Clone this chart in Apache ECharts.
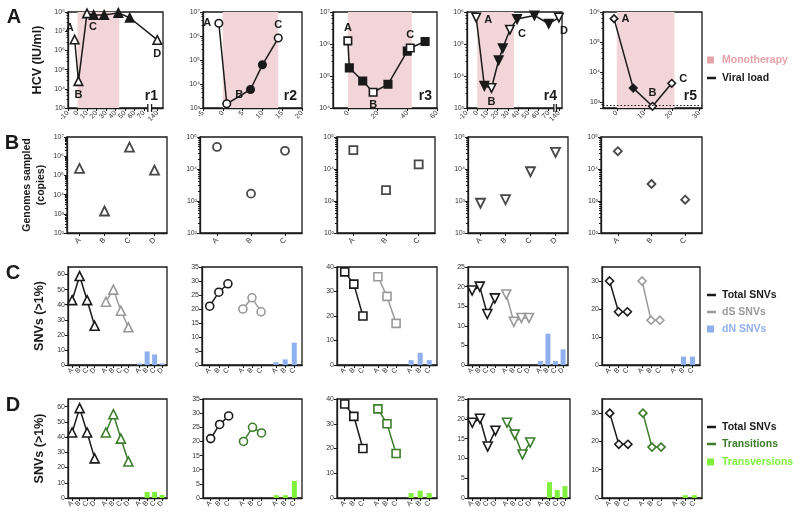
<!DOCTYPE html>
<html><head><meta charset="utf-8">
<script src="https://cdn.jsdelivr.net/npm/echarts@6/dist/echarts.min.js"></script>
<style>html,body{margin:0;padding:0;background:#fff}#c{width:800px;height:520px}</style>
</head><body><div id="c"></div>
<script>
// ================= DATA =================
// Row A: HCV viral load (IU/ml) by day
const r1Day  = [-3, 1, 10, 17, 28, 43, 55, 140];
const r1Load = [3.7e6, 2.5e4, 8.5e7, 7e7, 7e7, 9e7, 5e7, 3.5e6];
const r1Tag  = ['A', 'B', 'C', '', '', '', '', 'D'];
const r2Day  = [-1, 1, 7, 10, 14];
const r2Load = [3.4e6, 1.5e3, 5.9e3, 6.3e4, 8.2e5];
const r2Tag  = ['A', 'B', '', '', 'C'];
const r3Day  = [0, 1, 10, 17, 27, 40, 42, 52];
const r3Load = [1.25e6, 1.8e5, 7e4, 3.1e4, 5.5e4, 6e5, 7.5e5, 1.2e6];
const r3Tag  = ['A', '', '', 'B', '', '', 'C', ''];
const r4Day  = [-1, 7, 14, 21, 25, 32, 39, 56, 70, 140];
const r4Load = [6.7e5, 4.9e3, 4.2e3, 3.1e4, 7.4e4, 2.8e5, 6e5, 7.8e5, 4.3e5, 6.7e5];
const r4Tag  = ['A', '', 'B', '', '', 'C', '', '', '', 'D'];
const r5Day  = [-1, 6, 13, 20];
const r5Load = [6e5, 2.9e3, 7.2e2, 4.2e3];
const r5Tag  = ['A', '', 'B', 'C'];
const therapyStart = [0, 0, 0, 0, 0];
const therapyEnd   = [44, 14, 43, 36, 21];
const r5DetectionLimit = 750;

// Row B: genomes sampled (copies)
const r1Samples = ['A', 'B', 'C', 'D'];
const r2Samples = ['A', 'B', 'C'];
const r3Samples = ['A', 'B', 'C'];
const r4Samples = ['A', 'B', 'C', 'D'];
const r5Samples = ['A', 'B', 'C'];
const r1Genomes = [2.3e5, 1.4e3, 3e6, 1.9e5];
const r2Genomes = [4.9e4, 1.7e3, 3.7e4];
const r3Genomes = [3.9e4, 2.2e3, 1.4e4];
const r4Genomes = [8.5e2, 1.1e3, 8.2e3, 3.3e4];
const r5Genomes = [3.6e4, 3.4e3, 1.1e3];

// Row C: SNVs (>1%) total / dS / dN
const r1Total = [43, 59, 43, 26], r1dS = [42, 50, 36, 25], r1dN = [1, 9, 7, 1];
const r2Total = [21, 26, 29],     r2dS = [20, 24, 19],     r2dN = [1, 2, 8];
const r3Total = [38, 33, 20],     r3dS = [36, 28, 17],     r3dN = [2, 5, 2];
const r4Total = [19, 20, 13, 17], r4dS = [18, 11, 12, 12], r4dN = [1, 8, 1, 4];
const r5Total = [30, 19, 19],     r5dS = [30, 16, 16],     r5dN = [0, 3, 3];

// Row D: transitions / transversions
const r1Ts = [43, 55, 39, 24], r1Tv = [0, 4, 4, 2];
const r2Ts = [20, 25, 23],     r2Tv = [1, 1, 6];
const r3Ts = [36, 30, 18],     r3Tv = [2, 3, 2];
const r4Ts = [19, 16, 11, 14], r4Tv = [0, 4, 2, 3];
const r5Ts = [30, 18, 18],     r5Tv = [0, 1, 1];

// ================= LAYOUT / STYLE =================
const FONT = '"Liberation Sans", Arial, sans-serif';
const INK = '#1a1a1a';
const PINK = '#f2d5d8';
const GRAY = '#9a9a9a';
const BLUE = '#8fb0ee';
const GREEN = '#3b7d2b';
const LGREEN = '#7ff03c';
const rowY = { A: [12, 108], B: [137, 233], C: [267, 365], D: [399, 498] };
const colX = {
  A: [[68, 163], [203, 302], [333, 437], [467, 562], [603, 702]],
  B: [[67, 167], [200, 302], [337, 435], [468, 568], [601, 702]],
  C: [[68, 167], [202, 302], [337, 437], [468, 568], [602, 700]],
  D: [[68, 167], [203, 302], [337, 437], [468, 570], [602, 702]]
};
const SYM = ['triangle', 'circle', 'rect', 'triangle', 'diamond'];
const SYMROT = [0, 0, 0, 180, 0];
const SYMSIZE = [9, 8, 8, 9, 8];

const SUP = {'0':'⁰','1':'¹','2':'²','3':'³','4':'⁴','5':'⁵','6':'⁶','7':'⁷','8':'⁸','9':'⁹'};
function sup(n) { return String(n).split('').map(c => SUP[c] || c).join(''); }
function powLabel(v) { const l = Math.log10(v); const e = Math.round(l); return Math.abs(l - e) < 1e-6 ? '10' + sup(e) : ''; }

const tickText = { fontSize: 7, color: '#333', fontFamily: FONT };
const axisLine = { show: true, onZero: false, lineStyle: { color: INK, width: 1.3 } };
const axisTick = { show: true, length: 3, lineStyle: { color: INK, width: 1 } };

const grids = [], xAxes = [], yAxes = [], series = [], graphics = [], breakMarks = [];

function addGrid(row, col) {
  const [x0, x1] = colX[row][col], [y0, y1] = rowY[row];
  grids.push({ left: x0, top: y0, width: x1 - x0, height: y1 - y0, show: true, borderColor: INK, borderWidth: 1.3 });
  return grids.length - 1;
}

// ---------- Row A ----------
const rowA = [
  { day: r1Day, load: r1Load, tag: r1Tag, xmin: -10, xmax: 90, ticks: [-10,0,10,20,30,40,50,60,70], brk: { day: 140, pos: 84, marks: [74, 78] }, y: [1e3, 1e8],
    lab: [['top', [-5, 2]], ['bottom', [0, 0]], ['bottom', [6, 0]], null, null, null, null, ['bottom', [0, 0]]] },
  { day: r2Day, load: r2Load, tag: r2Tag, xmin: -5, xmax: 20, ticks: [-5,0,5,10,15,20], y: [1e3, 1e7],
    lab: [['left', [0, 0]], ['right', [1, -9]], null, null, ['top', [0, 0]]] },
  { day: r3Day, load: r3Load, tag: r3Tag, xmin: -10, xmax: 60, ticks: [0,20,40,60], y: [1e4, 1e7],
    lab: [['top', [0, 0]], null, null, ['bottom', [0, 0]], null, null, ['top', [0, 0]], null] },
  { day: r4Day, load: r4Load, tag: r4Tag, xmin: -10, xmax: 83, ticks: [-10,0,10,20,30,40,50,60,70], brk: { day: 140, pos: 80, marks: [75, 77.5] }, y: [1e3, 1e6],
    lab: [['right', [0, 2]], null, ['bottom', [0, 0]], null, null, ['right', [0, 4]], null, null, null, ['bottom', [5, 0]]] },
  { day: r5Day, load: r5Load, tag: r5Tag, xmin: -5, xmax: 31, ticks: [0,10,20,30], y: [630, 1e6],
    lab: [['right', [0, 0]], null, ['top', [0, 0]], ['right', [0, -4]]] }
];
const rNames = ['r1', 'r2', 'r3', 'r4', 'r5'];

rowA.forEach((p, i) => {
  const g = addGrid('A', i);
  const brk = p.brk;
  const xv = d => (brk && d >= brk.day) ? brk.pos : d;
  const ticks = brk ? p.ticks.concat([brk.pos]) : p.ticks;
  xAxes.push({ type: 'value', gridIndex: g, min: p.xmin, max: p.xmax, axisLine, splitLine: { show: false },
    axisTick: Object.assign({}, axisTick, { customValues: ticks }),
    axisLabel: Object.assign({}, tickText, { customValues: ticks, rotate: 45, margin: 4,
      formatter: v => (brk && Math.abs(v - brk.pos) < 1e-6) ? String(brk.day) : String(v) }) });
  yAxes.push({ type: 'log', logBase: 10, gridIndex: g, min: p.y[0], max: p.y[1], axisLine, splitLine: { show: false },
    axisTick, minorTick: { show: true, splitNumber: 5, length: 1.5, lineStyle: { color: INK } }, minorSplitLine: { show: false },
    axisLabel: Object.assign({}, tickText, { formatter: powLabel, margin: 3, showMinLabel: true }),
    name: i === 0 ? 'HCV (IU/ml)' : '', nameLocation: 'middle', nameGap: 24,
    nameTextStyle: { fontSize: 12.5, fontWeight: 'bold', color: INK, fontFamily: FONT } });
  const s = {
    type: 'line', xAxisIndex: g, yAxisIndex: g, symbol: SYM[i], symbolRotate: SYMROT[i], symbolSize: SYMSIZE[i] - 0.5,
    lineStyle: { color: INK, width: 1.5 }, z: 3,
    data: p.day.map((d, k) => {
      const open = p.tag[k] !== '';
      const item = { value: [xv(d), p.load[k]], itemStyle: { color: open ? '#fff' : INK, borderColor: INK, borderWidth: 1.6 } };
      if (open) item.label = { show: true, formatter: p.tag[k], position: p.lab[k][0], offset: p.lab[k][1], distance: 3,
        fontSize: 11, fontWeight: 'bold', color: INK, fontFamily: FONT };
      return item;
    }),
    markArea: { silent: true, itemStyle: { color: PINK }, data: [[{ xAxis: therapyStart[i] }, { xAxis: therapyEnd[i] }]] }
  };
  if (i === 4) s.markLine = { silent: true, symbol: 'none', label: { show: false },
    lineStyle: { type: [1.5, 2], color: INK, width: 1.2 }, data: [{ yAxis: r5DetectionLimit }] };
  series.push(s);
  if (brk) breakMarks.push({ g, xs: brk.marks, ymin: p.y[0] });
  const [x0, x1] = colX.A[i], [y0, y1] = rowY.A;
  graphics.push({ type: 'text', style: { x: x1 - 5, y: y1 - 12, text: rNames[i], font: 'bold 14px ' + FONT, fill: INK, textAlign: 'right', textVerticalAlign: 'middle', align: 'right', verticalAlign: 'middle' } });
});

// ---------- Row B ----------
const rowB = [
  { cat: r1Samples, val: r1Genomes, y: [1e2, 1e7] },
  { cat: r2Samples, val: r2Genomes, y: [1e2, 1e5] },
  { cat: r3Samples, val: r3Genomes, y: [1e2, 1e5] },
  { cat: r4Samples, val: r4Genomes, y: [1e2, 1e5] },
  { cat: r5Samples, val: r5Genomes, y: [1e2, 1e5] }
];
rowB.forEach((p, i) => {
  const g = addGrid('B', i);
  xAxes.push({ type: 'category', gridIndex: g, data: p.cat, boundaryGap: true, axisLine,
    axisTick: Object.assign({}, axisTick, { alignWithLabel: true }),
    axisLabel: Object.assign({}, tickText, { rotate: 45, margin: 6, fontSize: 7.5 }) });
  yAxes.push({ type: 'log', logBase: 10, gridIndex: g, min: p.y[0], max: p.y[1], axisLine, splitLine: { show: false },
    axisTick, minorTick: { show: true, splitNumber: 9, length: 2, lineStyle: { color: INK } }, minorSplitLine: { show: false },
    axisLabel: Object.assign({}, tickText, { formatter: powLabel, margin: 3 }),
    name: i === 0 ? 'Genomes sampled\n(copies)' : '', nameLocation: 'middle', nameGap: 19,
    nameTextStyle: { fontSize: 10.5, fontWeight: 'bold', color: INK, fontFamily: FONT, lineHeight: 14 } });
  series.push({ type: 'scatter', xAxisIndex: g, yAxisIndex: g, symbol: SYM[i], symbolRotate: SYMROT[i], symbolSize: SYMSIZE[i],
    itemStyle: { color: '#fff', borderColor: INK, borderWidth: 1.8 }, data: p.val });
});

// ---------- Rows C & D ----------
const pos4 = [0, 1, 2, 3, 4.5, 5.5, 6.5, 7.5, 9, 10, 11, 12];
const pos3 = [0, 1, 2, 3.65, 4.65, 5.65, 7.3, 8.3, 9.3];
const rowC = [
  { cat: r1Samples, total: r1Total, sub: r1dS, bar: r1dN, ymax: 65, yint: 10 },
  { cat: r2Samples, total: r2Total, sub: r2dS, bar: r2dN, ymax: 35, yint: 5 },
  { cat: r3Samples, total: r3Total, sub: r3dS, bar: r3dN, ymax: 40, yint: 10 },
  { cat: r4Samples, total: r4Total, sub: r4dS, bar: r4dN, ymax: 25, yint: 5 },
  { cat: r5Samples, total: r5Total, sub: r5dS, bar: r5dN, ymax: 35, yint: 10 }
];
const rowD = [
  { cat: r1Samples, total: r1Total, sub: r1Ts, bar: r1Tv, ymax: 65, yint: 10 },
  { cat: r2Samples, total: r2Total, sub: r2Ts, bar: r2Tv, ymax: 35, yint: 5 },
  { cat: r3Samples, total: r3Total, sub: r3Ts, bar: r3Tv, ymax: 40, yint: 10 },
  { cat: r4Samples, total: r4Total, sub: r4Ts, bar: r4Tv, ymax: 25, yint: 5 },
  { cat: r5Samples, total: r5Total, sub: r5Ts, bar: r5Tv, ymax: 35, yint: 10 }
];
function snvPanel(row, i, p, subColor, barColor) {
  const g = addGrid(row, i);
  const n = p.cat.length;
  const pos = n === 4 ? pos4 : pos3;
  const range = n === 4 ? [-0.55, 12.65] : [-0.85, 10.15];
  xAxes.push({ type: 'value', gridIndex: g, min: range[0], max: range[1], axisLine, splitLine: { show: false },
    axisTick: Object.assign({}, axisTick, { customValues: pos }),
    axisLabel: Object.assign({}, tickText, { customValues: pos, rotate: 45, margin: 4, fontSize: 7,
      formatter: v => { let k = 0, best = 1e9; pos.forEach((q, j) => { if (Math.abs(q - v) < best) { best = Math.abs(q - v); k = j; } }); return p.cat[k % n]; } }) });
  yAxes.push({ type: 'value', gridIndex: g, min: 0, max: p.ymax, interval: p.yint, axisLine, splitLine: { show: false }, axisTick,
    axisLabel: Object.assign({}, tickText, { margin: 3, showMaxLabel: p.ymax % p.yint === 0 }),
    name: i === 0 ? 'SNVs (>1%)' : '', nameLocation: 'middle', nameGap: 22,
    nameTextStyle: { fontSize: 12.5, fontWeight: 'bold', color: INK, fontFamily: FONT } });
  const mk = (vals, off, color) => ({ type: 'line', xAxisIndex: g, yAxisIndex: g, symbol: SYM[i], symbolRotate: SYMROT[i], symbolSize: SYMSIZE[i],
    lineStyle: { color, width: 1.5 }, itemStyle: { color: '#fff', borderColor: color, borderWidth: 1.6 }, z: 3,
    data: vals.map((v, k) => [pos[off + k], v]) });
  series.push(mk(p.total, 0, INK));
  series.push(mk(p.sub, n, subColor));
  series.push({ type: 'bar', xAxisIndex: g, yAxisIndex: g, barWidth: 5, itemStyle: { color: barColor },
    data: p.bar.map((v, k) => [pos[2 * n + k], v]) });
}
rowC.forEach((p, i) => snvPanel('C', i, p, GRAY, BLUE));
rowD.forEach((p, i) => snvPanel('D', i, p, GREEN, LGREEN));

// ---------- Panel letters & legends ----------
const letterFont = 'bold 20px ' + FONT;
[['A', 14, 17], ['B', 12, 143], ['C', 13, 273], ['D', 13, 405]].forEach(([t, x, y]) =>
  graphics.push({ type: 'text', style: { x, y, text: t, font: letterFont, fill: INK, textAlign: 'center', textVerticalAlign: 'middle', align: 'center', verticalAlign: 'middle' } }));

function legendItem(kind, color, text, y) {
  if (kind === 'box') graphics.push({ type: 'rect', shape: { x: 707, y: y - 3.5, width: 7, height: 7 }, style: { fill: color } });
  else graphics.push({ type: 'line', shape: { x1: 707, y1: y, x2: 716, y2: y }, style: { stroke: color, lineWidth: 2.5 } });
  graphics.push({ type: 'text', style: { x: 722, y, text, font: 'bold 10.5px ' + FONT, fill: color, textAlign: 'left', textVerticalAlign: 'middle', align: 'left', verticalAlign: 'middle' } });
}
legendItem('box', '#e6a3a8', 'Monotherapy', 60);
legendItem('line', INK, 'Viral load', 78);
legendItem('line', INK, 'Total SNVs', 295);
legendItem('line', GRAY, 'dS SNVs', 312);
legendItem('box', BLUE, 'dN SNVs', 329);
legendItem('line', INK, 'Total SNVs', 427);
legendItem('line', GREEN, 'Transitions', 444);
legendItem('box', LGREEN, 'Transversions', 462);

const chart = echarts.init(document.getElementById('c'), null, { renderer: 'canvas', width: 800, height: 520 });
chart.setOption({
  animation: false, backgroundColor: '#fff',
  textStyle: { fontFamily: FONT },
  grid: grids, xAxis: xAxes, yAxis: yAxes, series, graphic: graphics
});

// axis-break marks on the broken time axes
const extra = [];
breakMarks.forEach(b => {
  const pa = chart.convertToPixel({ gridIndex: b.g }, [b.xs[0], b.ymin]);
  const pb = chart.convertToPixel({ gridIndex: b.g }, [b.xs[1], b.ymin]);
  extra.push({ type: 'rect', shape: { x: pa[0], y: pa[1] - 2, width: pb[0] - pa[0], height: 4 }, style: { fill: '#fff' }, z: 100 });
  [pa, pb].forEach(p => extra.push({ type: 'line', shape: { x1: p[0], y1: p[1] - 4, x2: p[0], y2: p[1] + 4 }, style: { stroke: INK, lineWidth: 1.3 }, z: 101 }));
});
chart.setOption({ graphic: graphics.concat(extra) });
</script>
</body></html>
